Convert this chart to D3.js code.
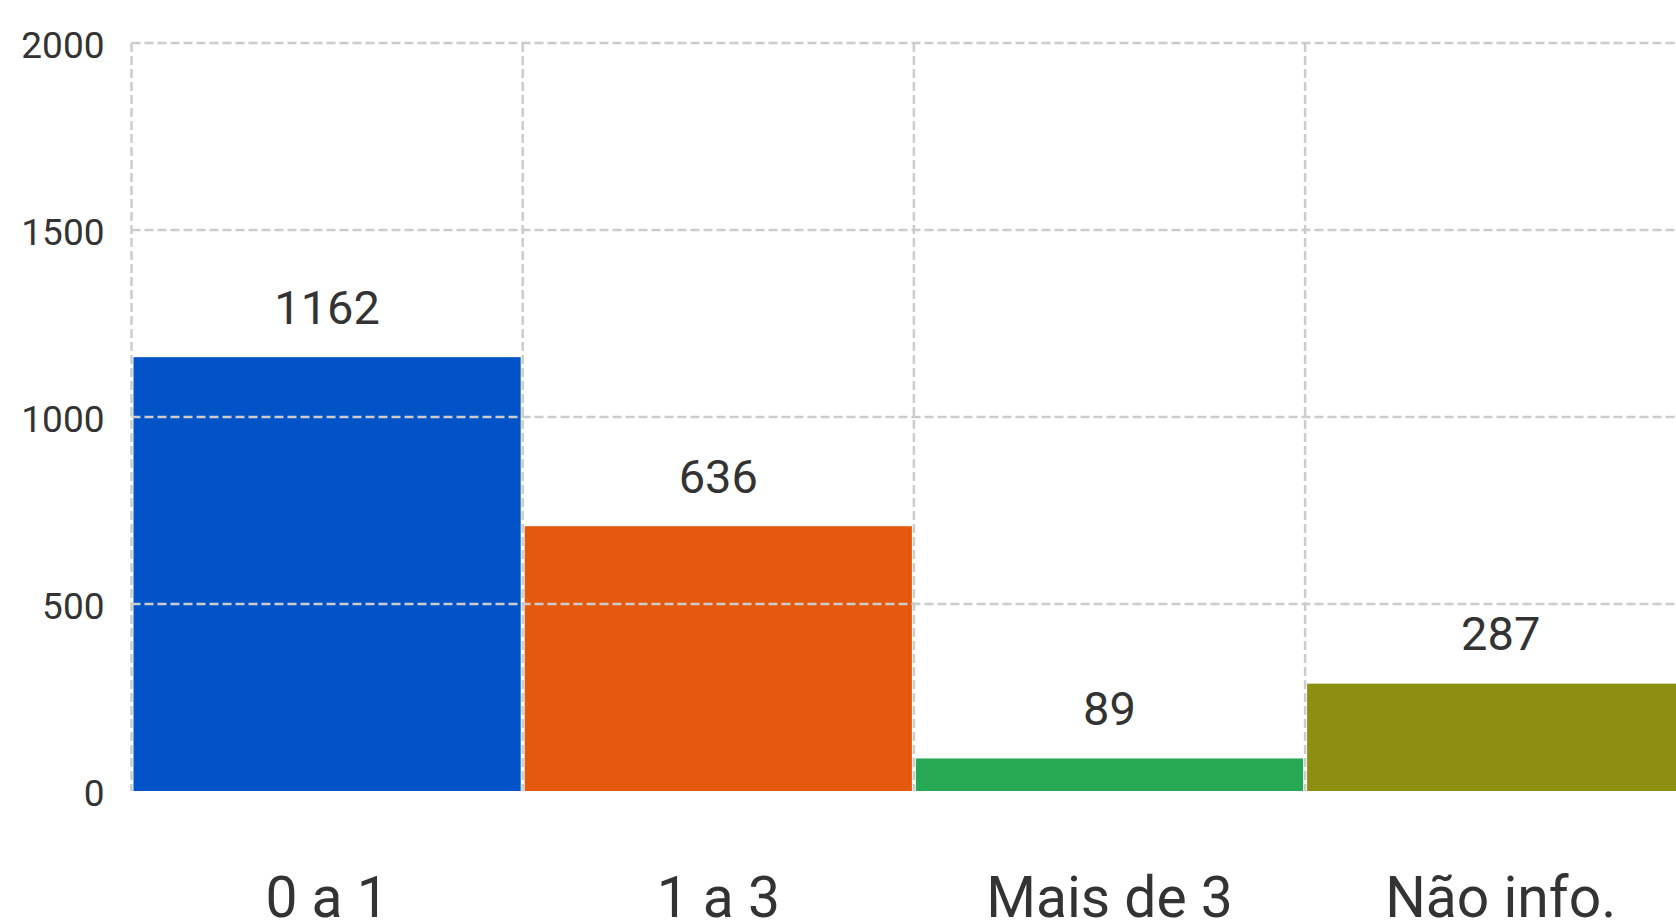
<!DOCTYPE html>
<html>
<head>
<meta charset="utf-8">
<script src="https://cdn.jsdelivr.net/npm/d3@7"></script>
<style>
  body { margin: 0; background: #fff; overflow: hidden; }
  svg { display: block; font-family: Roboto, "Noto Sans", sans-serif; }
</style>
</head>
<body>
<svg></svg>
<script>
// ================= DATA =================
const categories = ["0 a 1", "1 a 3", "Mais de 3", "Não info."];
const barValues = [1160, 708, 87, 287];      // bar heights as drawn
const valueLabels = ["1162", "636", "89", "287"];
const barColors = ["#0252c8", "#e5590e", "#26a854", "#8c8f12"];
const yTicks = [0, 500, 1000, 1500, 2000];

// ================= CANVAS =================
var width = 1676;
var height = 922;
var marginLeft = 131.5;
var plotTop = 43;
var plotBottom = 791;
var bandW = 391.2;

const svg = d3.select("svg").attr("width", width).attr("height", height);

const xs = d3.scaleBand().domain(categories).range([marginLeft, marginLeft + bandW * categories.length]).padding(0);
const ys = d3.scaleLinear().domain([0, 2000]).range([plotBottom, plotTop]);

// ================= BARS =================
svg.append("g")
  .selectAll("rect")
  .data(categories)
  .enter()
  .append("rect")
  .attr("x", d => xs(d) + 2)
  .attr("y", (d, i) => ys(barValues[i]))
  .attr("width", xs.bandwidth() - 4)
  .attr("height", (d, i) => plotBottom - ys(barValues[i]))
  .attr("fill", (d, i) => barColors[i]);

// ================= GRID (drawn over bars) =================
const grid = svg.append("g")
  .attr("stroke", "#cccccc")
  .attr("stroke-width", 2.5)
  .attr("stroke-dasharray", "9,4")
  .attr("fill", "none");

grid.selectAll(".h")
  .data(yTicks.filter(t => t > 0))
  .enter()
  .append("line")
  .attr("x1", marginLeft).attr("x2", width)
  .attr("y1", d => ys(d)).attr("y2", d => ys(d));

grid.selectAll(".v")
  .data(categories)
  .enter()
  .append("line")
  .attr("x1", d => xs(d)).attr("x2", d => xs(d))
  .attr("y1", plotTop).attr("y2", plotBottom);

// ================= AXES =================
const yAxis = svg.append("g")
  .attr("transform", "translate(" + marginLeft + ",0)")
  .call(d3.axisLeft(ys).tickValues(yTicks).tickSize(0).tickPadding(27).tickFormat(d3.format("d")));
yAxis.select(".domain").remove();
yAxis.selectAll("text")
  .attr("font-family", "Roboto, sans-serif")
  .attr("font-size", 37)
  .attr("fill", "#333333")
  .attr("dy", "0.4em");

const xAxis = svg.append("g")
  .attr("transform", "translate(0," + plotBottom + ")")
  .call(d3.axisBottom(xs).tickSize(0).tickPadding(0));
xAxis.select(".domain").remove();
xAxis.selectAll("text")
  .attr("font-family", "Roboto, sans-serif")
  .attr("font-size", 57)
  .attr("fill", "#333333")
  .attr("y", 126)
  .attr("dy", 0);

// ================= VALUE LABELS =================
svg.append("g")
  .selectAll("text")
  .data(categories)
  .enter()
  .append("text")
  .attr("x", d => xs(d) + xs.bandwidth() / 2)
  .attr("y", (d, i) => ys(barValues[i]) - 50)
  .attr("dy", "0.35em")
  .attr("text-anchor", "middle")
  .attr("font-size", 47)
  .attr("fill", "#333333")
  .text((d, i) => valueLabels[i]);
</script>
</body>
</html>
